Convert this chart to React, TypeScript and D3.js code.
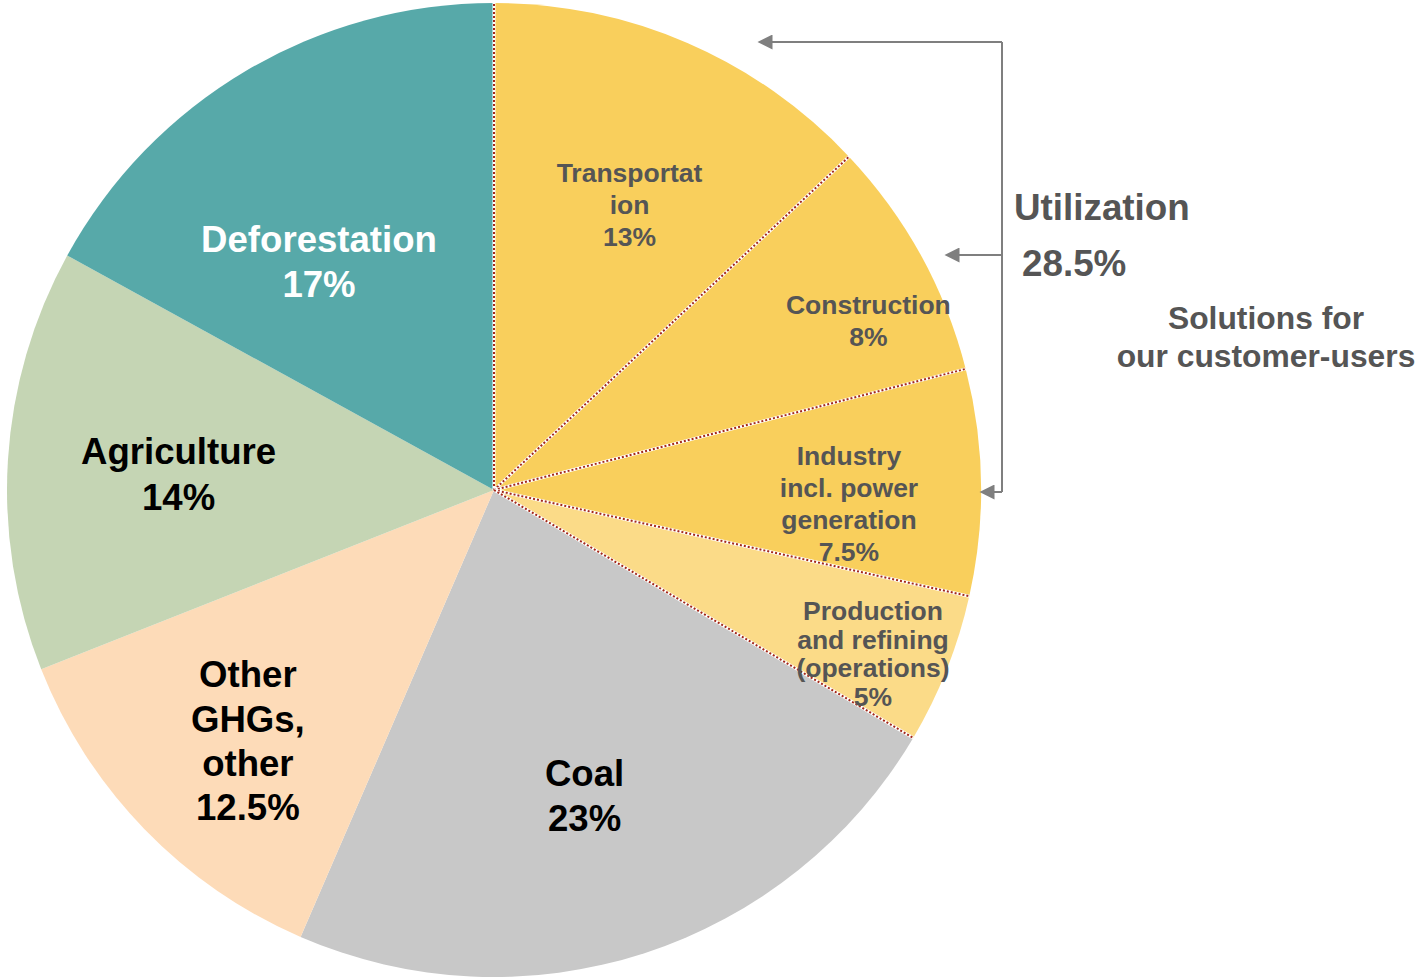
import React, { useEffect } from 'react'
import * as d3 from 'd3'

// slices clockwise from 12 o'clock
const categories = ['Transportation', 'Construction', 'Industry', 'Production', 'Coal', 'Other GHGs', 'Agriculture', 'Deforestation']
const shares = [13, 8, 7.5, 5, 23, 12.5, 14, 17]
const labelLines = [
  ['Transportat', 'ion', '13%'],
  ['Construction', '8%'],
  ['Industry', 'incl. power', 'generation', '7.5%'],
  ['Production', 'and refining', '(operations)', '5%'],
  ['Coal', '23%'],
  ['Other', 'GHGs,', 'other', '12.5%'],
  ['Agriculture', '14%'],
  ['Deforestation', '17%'],
]
// slices whose edges get the dotted red separator
const dottedSlices = ['Transportation', 'Construction', 'Industry', 'Production']

const colors: Record<string, string> = {
  Transportation: '#F9CF5C',
  Construction: '#F9CF5C',
  Industry: '#F9CF5C',
  Production: '#FBDB88',
  Coal: '#C8C8C8',
  'Other GHGs': '#FDDBB8',
  Agriculture: '#C5D5B4',
  Deforestation: '#57A9A9',
}

// label placement: fraction of radius + small nudge, font size, line height, colour
const labelStyle: Record<string, { f: number; dx: number; dy: number; size: number; lh: number; fill: string }> = {
  Transportation: { f: 0.649, dx: 10, dy: 5, size: 26.5, lh: 32, fill: '#555555' },
  Construction: { f: 0.842, dx: 15, dy: 29, size: 26.5, lh: 32, fill: '#555555' },
  Industry: { f: 0.729, dx: 0, dy: 20, size: 26.5, lh: 32, fill: '#555555' },
  Production: { f: 0.848, dx: -5, dy: 12, size: 26.5, lh: 28.7, fill: '#555555' },
  Coal: { f: 0.655, dx: -8, dy: 3, size: 36.6, lh: 45, fill: '#000000' },
  'Other GHGs': { f: 0.721, dx: 6, dy: 7, size: 36.6, lh: 44.3, fill: '#000000' },
  Agriculture: { f: 0.649, dx: 0, dy: 4, size: 36.6, lh: 46, fill: '#000000' },
  Deforestation: { f: 0.589, dx: -29, dy: 19, size: 36.6, lh: 45, fill: '#FFFFFF' },
}

const W = 1418
const H = 978
const cx = 494
const cy = 490
const R = 487
const font = '"Liberation Sans", Arial, Helvetica, sans-serif'
const grey = '#7F7F7F'

export default function App() {
  useEffect(() => {
    document.body.style.margin = '0'
  }, [])

  const data = categories.map((c, i) => ({ name: c, value: shares[i] }))
  const pie = d3.pie<{ name: string; value: number }>().sort(null).value(d => d.value)
  const arcs = pie(data)
  const arc = d3.arc<d3.PieArcDatum<{ name: string; value: number }>>().innerRadius(0).outerRadius(R)

  // edges for dotted separators
  const edgeAngles: number[] = []
  arcs.forEach(a => {
    if (dottedSlices.includes(a.data.name)) {
      if (!edgeAngles.includes(a.startAngle)) edgeAngles.push(a.startAngle)
      if (!edgeAngles.includes(a.endAngle)) edgeAngles.push(a.endAngle)
    }
  })

  const pt = (ang: number, r: number) => [Math.sin(ang) * r, -Math.cos(ang) * r]

  return (
    <svg width={W} height={H} viewBox={`0 0 ${W} ${H}`} style={{ display: 'block', background: '#fff' }}>
      <defs>
        <marker id="arrow" viewBox="0 0 10 10" refX="1" refY="5" markerWidth="8" markerHeight="7.5" orient="auto-start-reverse" markerUnits="strokeWidth">
          <path d="M0,0 L10,5 L0,10 Z" fill={grey} />
        </marker>
      </defs>
      <g transform={`translate(${cx},${cy})`}>
        {arcs.map(a => (
          <path key={a.data.name} d={arc(a) || ''} fill={colors[a.data.name]} />
        ))}
        {edgeAngles.map((ang, i) => {
          const [x, y] = pt(ang, R)
          return (
            <g key={i}>
              <line x1={0} y1={0} x2={x} y2={y} stroke="#fff" strokeWidth={3} />
              <line x1={0} y1={0} x2={x} y2={y} stroke="#A3281A" strokeWidth={2} strokeDasharray="2,2" />
            </g>
          )
        })}
        {arcs.map((a, i) => {
          const s = labelStyle[a.data.name]
          const mid = (a.startAngle + a.endAngle) / 2
          const [x, y] = pt(mid, R * s.f)
          const lines = labelLines[i]
          const x0 = x + s.dx
          const y0 = y + s.dy - ((lines.length - 1) * s.lh) / 2
          return (
            <text
              key={a.data.name}
              textAnchor="middle"
              fontFamily={font}
              fontWeight="bold"
              fontSize={s.size}
              fill={s.fill}
            >
              {lines.map((l, j) => (
                <tspan key={j} x={x0} y={y0 + j * s.lh} dominantBaseline="central">
                  {l}
                </tspan>
              ))}
            </text>
          )
        })}
      </g>

      {/* utilization bracket */}
      <g stroke={grey} strokeWidth={2} fill="none">
        <path d="M1002,42 L1002,492" />
        <path d="M1002,42 L771,42" markerEnd="url(#arrow)" />
        <path d="M1002,255 L958,255" markerEnd="url(#arrow)" />
        <path d="M1002,492 L993,492" markerEnd="url(#arrow)" />
      </g>
      <g fontFamily={font} fontWeight="bold" fill="#555555">
        <text x={1014} y={207} fontSize={36.8} dominantBaseline="central">Utilization</text>
        <text x={1022} y={263} fontSize={36.8} dominantBaseline="central">28.5%</text>
        <text x={1266} y={318} fontSize={31.8} textAnchor="middle" dominantBaseline="central">Solutions for</text>
        <text x={1266} y={356} fontSize={31.8} textAnchor="middle" dominantBaseline="central">our customer-users</text>
      </g>
    </svg>
  )
}
